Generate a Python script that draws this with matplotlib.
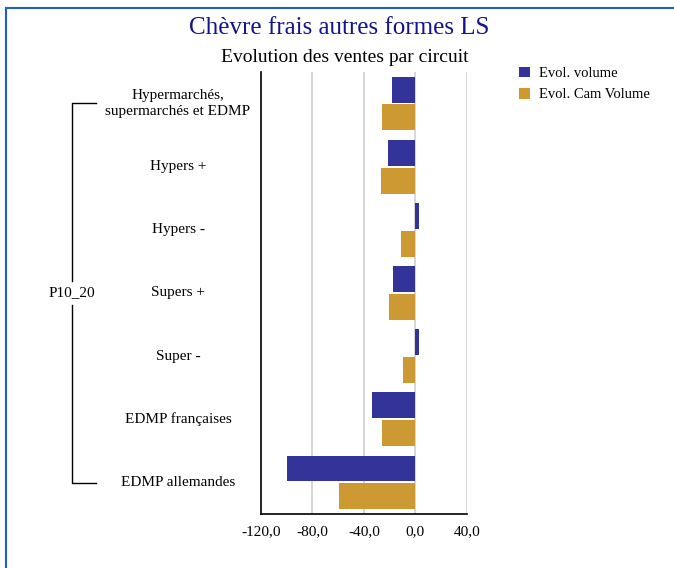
import matplotlib
matplotlib.use('Agg')
import matplotlib.pyplot as plt
import numpy as np
from matplotlib.patches import Rectangle
from matplotlib.lines import Line2D

plt.rcParams['font.family'] = ['Liberation Serif', 'DejaVu Serif']

# sales evolution by channel (%)
circuits = ['Hypermarchés,\nsupermarchés et EDMP', 'Hypers +', 'Hypers -',
            'Supers +', 'Super -', 'EDMP françaises', 'EDMP allemandes']
evol_volume = [-18.2, -21.3, 2.9, -17.4, 2.9, -33.8, -100.0]
evol_cam_volume = [-26.0, -26.7, -11.1, -20.5, -9.6, -26.0, -59.5]
group_label = 'P10_20'
ticks = [-120, -80, -40, 0, 40]

navy = '#333399'
gold = '#CC9933'

fig = plt.figure(figsize=(6.74, 5.68), dpi=100)

# blue frame around the chart
fig.patches.append(Rectangle((0.009, -0.1), 1.2, 1.086, transform=fig.transFigure,
                             fill=False, edgecolor='#1f5fbf', linewidth=1.5))

fig.text(0.503, 1 - 28 / 568, 'Chèvre frais autres formes LS', ha='center', va='center',
         fontsize=18, color='#14148c')
fig.text(0.512, 1 - 58 / 568, 'Evolution des ventes par circuit', ha='center', va='center',
         fontsize=14, color='black')

ax = fig.add_axes([0.3872, 0.0951, 0.3052, 0.7782])
y = np.arange(len(circuits))
ax.barh(y - 0.22, evol_volume, height=0.41, color=navy, label='Evol. volume', zorder=3)
ax.barh(y + 0.22, evol_cam_volume, height=0.41, color=gold, label='Evol. Cam Volume', zorder=3)

ax.set_xlim(-120, 40)
ax.set_ylim(6.5, -0.5)
ax.set_xticks(ticks)
ax.set_xticklabels([f'{t:.1f}'.replace('.', ',') for t in ticks], fontsize=11)
ax.set_yticks([])
ax.tick_params(axis='x', length=0, pad=8)
for t in ticks[1:]:
    ax.axvline(t, color='#d0d0d0', linewidth=1.2, zorder=1)
for s in ['top', 'right']:
    ax.spines[s].set_visible(False)
ax.spines['left'].set_color('black')
ax.spines['bottom'].set_color('black')
ax.spines['left'].set_linewidth(1.2)
ax.spines['bottom'].set_linewidth(1.2)

# category labels
label_x = 178 / 674
for i, name in enumerate(circuits):
    yy = ax.transData.transform((0, i))[1] / fig.bbox.height
    fig.text(label_x, yy, name, ha='center', va='center', fontsize=11, linespacing=1.25)

# group bracket
y_top = 1 - 103 / 568
y_bot = 1 - 483 / 568
y_mid = 1 - 293 / 568
xv = 72 / 674
xh = 96 / 674
fig.lines.append(Line2D([xh, xv, xv], [y_top, y_top, y_mid + 0.022], transform=fig.transFigure,
                        color='black', linewidth=1))
fig.lines.append(Line2D([xv, xv, xh], [y_mid - 0.022, y_bot, y_bot], transform=fig.transFigure,
                        color='black', linewidth=1))
fig.text(xv, y_mid, group_label, ha='center', va='center', fontsize=11)

fig.legend(loc='upper left', bbox_to_anchor=(0.751, 0.906), frameon=False, fontsize=10.5,
           handlelength=0.75, handleheight=0.75, handletextpad=0.6, labelspacing=0.55)

fig.savefig('out.png', dpi=100)
